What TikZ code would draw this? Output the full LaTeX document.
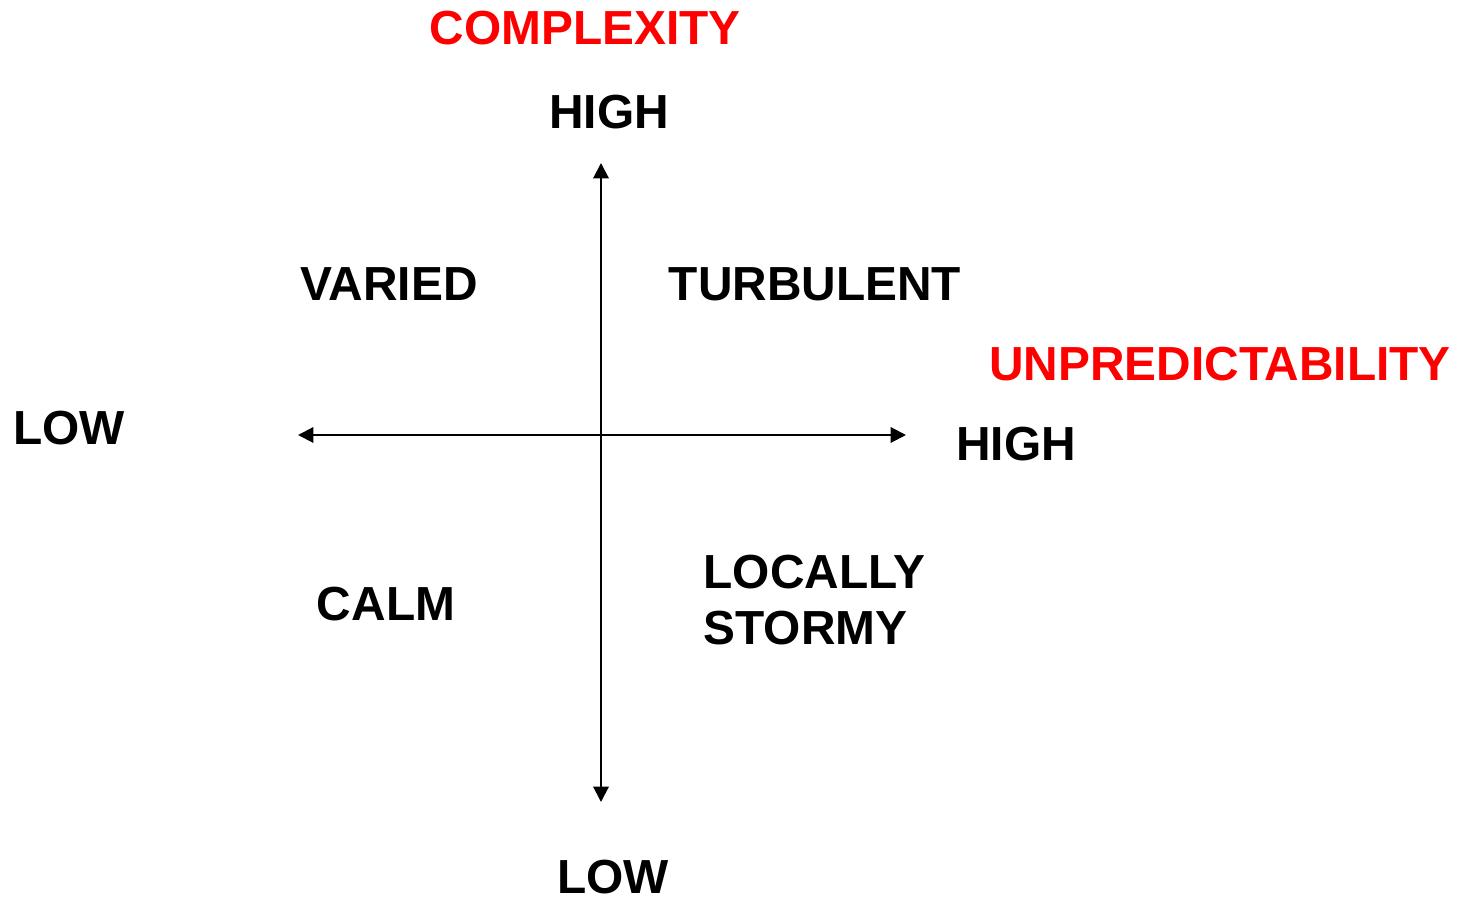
\documentclass[tikz,border=0pt]{standalone}
\usepackage{fontspec}
\setmainfont{Liberation Sans}
\usetikzlibrary{arrows.meta}
\begin{document}
\begin{tikzpicture}[x=0.01cm,y=-0.01cm,
  lbl/.style={font=\fontsize{13.6pt}{16pt}\selectfont\bfseries, inner sep=0pt, anchor=base},
  title/.style={lbl, text={rgb,255:red,255;green,0;blue,0}},
  axis/.style={line width=0.6pt, -{Triangle[length=4.4pt,width=4.4pt]}}]
\useasboundingbox (0,0) rectangle (1470,898);
\coordinate (o) at (601,435);
\coordinate (top) at (601,163);
\coordinate (bot) at (601,802);
\coordinate (lft) at (298,435);
\coordinate (rgt) at (906,435);
\draw[axis] (o) -- (top);
\draw[axis] (o) -- (bot);
\draw[axis] (o) -- (lft);
\draw[axis] (o) -- (rgt);
\node[title] (complexity) at (585,45) {COMPLEXITY};
\node[lbl] (hightop) at (609,129) {HIGH};
\node[lbl] (varied) at (389,301) {VARIED};
\node[lbl] (turb) at (815,301) {TURBULENT};
\node[title] (unpred) at (1220,381) {UNPREDICTABILITY};
\node[lbl] (lowleft) at (69,445) {LOW};
\node[lbl] (highright) at (1016,461) {HIGH};
\node[lbl] (calm) at (386,621) {CALM};
\node[lbl, anchor=base west] (locally) at (703,589) {LOCALLY};
\node[lbl, anchor=base west] (stormy) at (703,645) {STORMY};
\node[lbl] (lowbot) at (613,893) {LOW};
\end{tikzpicture}
\end{document}
